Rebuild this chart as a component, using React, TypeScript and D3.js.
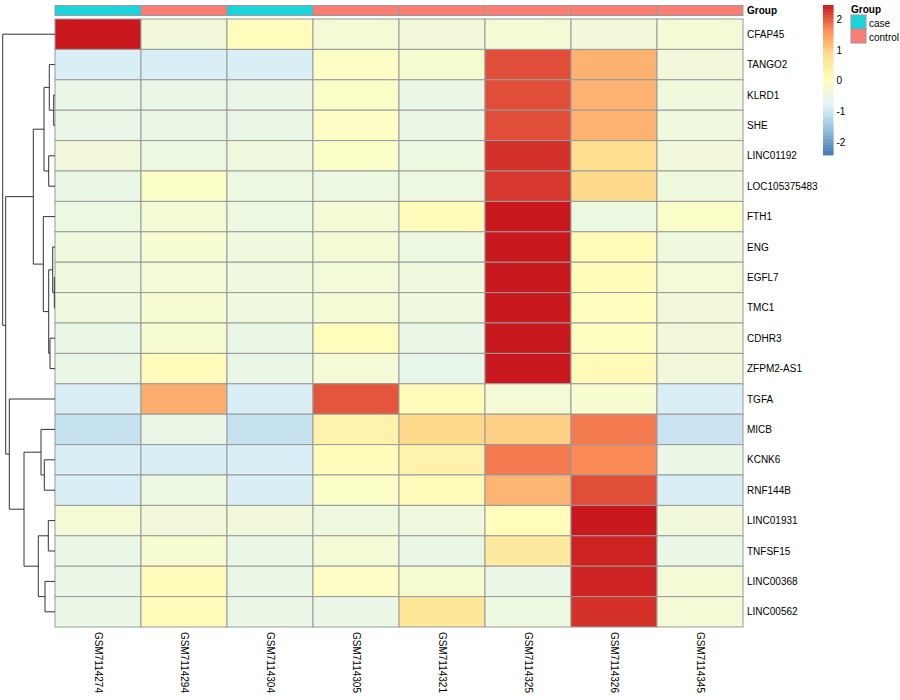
import React, { useEffect, useRef } from "react";
import * as d3 from "d3";

const samples = [
  "GSM7114274",
  "GSM7114294",
  "GSM7114304",
  "GSM7114305",
  "GSM7114321",
  "GSM7114325",
  "GSM7114326",
  "GSM7114345",
];

const groups = ["case", "control", "case", "control", "control", "control", "control", "control"];

const genes = [
  "CFAP45", "TANGO2", "KLRD1", "SHE", "LINC01192", "LOC105375483", "FTH1", "ENG",
  "EGFL7", "TMC1", "CDHR3", "ZFPM2-AS1", "TGFA", "MICB", "KCNK6", "RNF144B",
  "LINC01931", "TNFSF15", "LINC00368", "LINC00562",
];

// row z-scores, one row per gene, columns in sample order
const values: number[][] = [
  [2.47, -0.35, 0.08, -0.28, -0.35, -0.28, -0.35, -0.28],
  [-0.86, -0.86, -0.86, -0.05, -0.2, 2.1, 1.29, -0.35],
  [-0.52, -0.52, -0.52, -0.1, -0.52, 2.1, 1.29, -0.4],
  [-0.52, -0.52, -0.52, -0.05, -0.52, 2.1, 1.29, -0.4],
  [-0.35, -0.45, -0.4, -0.1, -0.45, 2.3, 0.85, -0.35],
  [-0.52, -0.1, -0.45, -0.45, -0.45, 2.25, 0.9, -0.4],
  [-0.45, -0.28, -0.45, -0.28, 0.1, 2.47, -0.45, -0.1],
  [-0.4, -0.2, -0.4, -0.28, -0.45, 2.47, 0.12, -0.4],
  [-0.4, -0.32, -0.4, -0.32, -0.4, 2.47, 0.1, -0.32],
  [-0.4, -0.2, -0.4, -0.3, -0.4, 2.47, 0.05, -0.35],
  [-0.52, -0.2, -0.52, 0.08, -0.52, 2.47, 0.0, -0.35],
  [-0.52, 0.1, -0.52, -0.28, -0.58, 2.47, 0.15, -0.35],
  [-0.86, 1.33, -0.86, 2.05, 0.1, -0.28, -0.2, -0.86],
  [-1.05, -0.52, -1.05, 0.36, 0.9, 0.99, 1.78, -1.02],
  [-0.86, -0.86, -0.86, 0.1, 0.36, 1.78, 1.68, -0.52],
  [-0.86, -0.45, -0.86, -0.1, 0.1, 1.26, 2.1, -0.86],
  [-0.28, -0.35, -0.35, -0.4, -0.4, 0.08, 2.47, -0.35],
  [-0.52, -0.2, -0.52, -0.28, -0.52, 0.58, 2.4, -0.52],
  [-0.52, 0.1, -0.52, -0.05, -0.2, -0.52, 2.4, -0.28],
  [-0.52, 0.1, -0.52, -0.52, 0.68, -0.45, 2.3, -0.28],
];

// hclust style merges: [left, right, height]; "mN" refers to merge N
const merges: [string, string, number][] = [
  ["KLRD1", "SHE", 1.3],
  ["TANGO2", "m0", 5.7],
  ["LINC01192", "LOC105375483", 6.3],
  ["m1", "m2", 11],
  ["EGFL7", "TMC1", 0.7],
  ["ENG", "m4", 2.3],
  ["CDHR3", "ZFPM2-AS1", 5],
  ["m5", "m6", 6.3],
  ["FTH1", "m7", 11.7],
  ["m3", "m8", 21.7],
  ["KCNK6", "RNF144B", 10.7],
  ["MICB", "m10", 14],
  ["LINC01931", "TNFSF15", 6.7],
  ["LINC00368", "LINC00562", 10],
  ["m12", "m13", 16.7],
  ["m11", "m14", 31],
  ["TGFA", "m15", 45.7],
  ["m9", "m16", 49.3],
  ["CFAP45", "m17", 52.3],
];

const colorStops = [-2.41, -1.597, -0.783, 0.03, 0.843, 1.657, 2.47];
const palette = ["#4575B4", "#91BFDB", "#E0F3F8", "#FFFFBF", "#FEE090", "#FC8D59", "#C9191E"];
const legendTicks = [-2, -1, 0, 1, 2];

const groupNames = ["case", "control"];
const groupColors = ["#1DD3DB", "#FC7D74"];

const FONT = "'Liberation Sans', Arial, Helvetica, sans-serif";

const App: React.FC = () => {
  const svgRef = useRef<SVGSVGElement | null>(null);

  useEffect(() => {
    const width = 900;
    const height = 700;
    const heat = { left: 55, right: 743, top: 19, bottom: 627 };
    const grid = "#999999";

    const svg = d3.select(svgRef.current).attr("width", width).attr("height", height);
    svg.selectAll("*").remove();
    svg.append("rect").attr("width", width).attr("height", height).attr("fill", "white");

    const x = d3.scaleBand().domain(samples).range([heat.left, heat.right]);
    const y = d3.scaleBand().domain(genes).range([heat.top, heat.bottom]);
    const color = d3
      .scaleLinear<string>()
      .domain(colorStops)
      .range(palette)
      .interpolate(d3.interpolateRgb)
      .clamp(true);
    const groupColor = d3.scaleOrdinal<string>().domain(groupNames).range(groupColors);

    // Heatmap cells
    const cells = genes.flatMap((g, i) => samples.map((s, j) => ({ g, s, v: values[i][j] })));
    svg
      .append("g")
      .selectAll("rect")
      .data(cells)
      .join("rect")
      .attr("x", (d) => x(d.s)!)
      .attr("y", (d) => y(d.g)!)
      .attr("width", x.bandwidth())
      .attr("height", y.bandwidth())
      .attr("fill", (d) => color(d.v))
      .attr("stroke", grid)
      .attr("stroke-width", 1);

    // Group annotation bar
    svg
      .append("g")
      .selectAll("rect")
      .data(samples)
      .join("rect")
      .attr("x", (d) => x(d)!)
      .attr("y", 5.5)
      .attr("width", x.bandwidth())
      .attr("height", 10)
      .attr("fill", (_, i) => groupColor(groups[i]))
      .attr("stroke", grid)
      .attr("stroke-width", 1);

    svg
      .append("text")
      .attr("x", heat.right + 4)
      .attr("y", 10.5)
      .attr("dominant-baseline", "central")
      .style("font-family", FONT)
      .style("font-size", "10px")
      .style("font-weight", "bold")
      .text("Group");

    // Row labels
    svg
      .append("g")
      .selectAll("text")
      .data(genes)
      .join("text")
      .attr("x", heat.right + 4)
      .attr("y", (d) => y(d)! + y.bandwidth() / 2)
      .attr("dominant-baseline", "central")
      .style("font-family", FONT)
      .style("font-size", "10px")
      .text((d) => d);

    // Column labels, rotated
    svg
      .append("g")
      .selectAll("text")
      .data(samples)
      .join("text")
      .attr("transform", (d) => `translate(${x(d)! + x.bandwidth() / 2},${heat.bottom + 5}) rotate(90)`)
      .attr("dominant-baseline", "central")
      .style("font-family", FONT)
      .style("font-size", "10px")
      .text((d) => d);

    // Row dendrogram
    const tx = d3.scaleLinear().domain([0, 52.3]).range([heat.left, 2.7]);
    const nodes = new Map<string, { y: number; h: number }>();
    genes.forEach((g) => nodes.set(g, { y: y(g)! + y.bandwidth() / 2, h: 0 }));
    const tree = svg
      .append("g")
      .attr("fill", "none")
      .attr("stroke", "#333")
      .attr("stroke-width", 1);
    merges.forEach(([a, b, h], i) => {
      const A = nodes.get(a)!;
      const B = nodes.get(b)!;
      const px = tx(h);
      tree
        .append("path")
        .attr("d", `M${tx(A.h)},${A.y}H${px}V${B.y}H${tx(B.h)}`);
      nodes.set(`m${i}`, { y: (A.y + B.y) / 2, h });
    });

    // Colour legend
    const lx = 823;
    const lw = 10.5;
    const ly = d3.scaleLinear().domain([colorStops[0], colorStops[colorStops.length - 1]]).range([155, 5]);
    const steps = d3.range(100).map(
      (i) => colorStops[0] + ((i + 0.5) / 100) * (colorStops[6] - colorStops[0])
    );
    const stepH = (155 - 5) / 100;
    svg
      .append("g")
      .selectAll("rect")
      .data(steps)
      .join("rect")
      .attr("x", lx)
      .attr("y", (d) => ly(d) - stepH / 2)
      .attr("width", lw)
      .attr("height", stepH + 0.4)
      .attr("fill", (d) => color(d));

    svg
      .append("g")
      .selectAll("text")
      .data(legendTicks)
      .join("text")
      .attr("x", lx + lw + 3)
      .attr("y", (d) => ly(d))
      .attr("dominant-baseline", "central")
      .style("font-family", FONT)
      .style("font-size", "10px")
      .text((d) => d);

    // Group legend
    const gx = 851;
    svg
      .append("text")
      .attr("x", gx)
      .attr("y", 9.5)
      .attr("dominant-baseline", "central")
      .style("font-family", FONT)
      .style("font-size", "10px")
      .style("font-weight", "bold")
      .text("Group");
    const gl = svg
      .append("g")
      .selectAll("g")
      .data(groupNames)
      .join("g")
      .attr("transform", (_, i) => `translate(${gx},${15 + i * 14})`);
    gl.append("rect")
      .attr("width", 15)
      .attr("height", 14)
      .attr("fill", (d) => groupColor(d))
      .attr("stroke", grid)
      .attr("stroke-width", 1);
    gl.append("text")
      .attr("x", 18)
      .attr("y", 8)
      .attr("dominant-baseline", "central")
      .style("font-family", FONT)
      .style("font-size", "10px")
      .text((d) => d);
  }, []);

  return (
    <svg
      ref={svgRef}
      style={{ position: "absolute", left: 0, top: 0, display: "block" }}
    ></svg>
  );
};

export default App;
